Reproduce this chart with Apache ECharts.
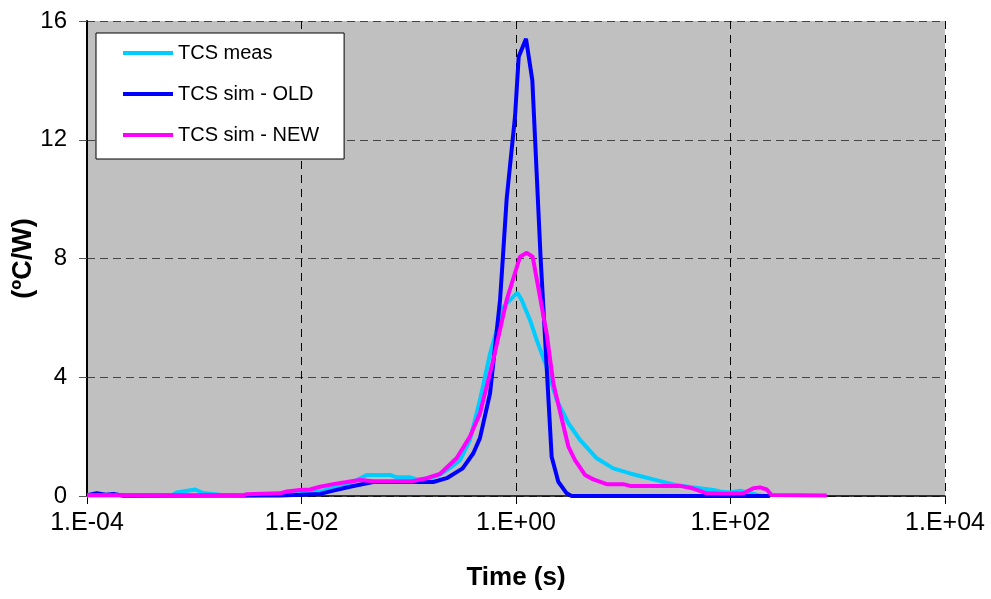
<!DOCTYPE html>
<html>
<head>
<meta charset="utf-8">
<style>
html,body{margin:0;padding:0;background:#fff;}
#chart{width:991px;height:599px;}
</style>
<script src="https://cdn.jsdelivr.net/npm/echarts@6/dist/echarts.min.js"></script>
</head>
<body>
<div id="chart"></div>
<script>
// ---- data ----
const seriesNames = ['TCS meas', 'TCS sim - OLD', 'TCS sim - NEW'];

const measTime = [1.0e-4, 6.2e-4, 6.85e-4, 1.02e-3, 1.21e-3, 1.74e-3, 3.08e-3, 6.31e-3, 9.68e-3, 1.2e-2, 1.49e-2, 1.98e-2, 3.04e-2, 4.06e-2, 6.68e-2, 7.73e-2, 0.103, 0.119, 0.158, 0.195, 0.243, 0.301, 0.372, 0.461, 0.573, 0.762, 1.03, 1.13, 1.35, 1.56, 1.93, 2.4, 3.08, 3.95, 5.66, 8.07, 11.6, 19.1, 29.3, 45, 69.2, 79.8, 98.9, 123, 152, 180, 200];
const measVal  = [0.02, 0.03, 0.12, 0.22, 0.10, 0.04, 0.02, 0.05, 0.10, 0.12, 0.15, 0.28, 0.48, 0.71, 0.71, 0.63, 0.63, 0.56, 0.60, 0.72, 0.95, 1.21, 1.89, 3.23, 4.8, 6.37, 6.85, 6.6, 5.93, 5.25, 4.35, 3.23, 2.45, 1.89, 1.27, 0.93, 0.76, 0.56, 0.39, 0.29, 0.2, 0.15, 0.12, 0.18, 0.10, 0.03, 0.0];

const oldTime = [1.0e-4, 1.23e-4, 1.5e-4, 1.76e-4, 2.2e-4, 6.31e-3, 9.68e-3, 1.49e-2, 1.98e-2, 2.83e-2, 4.06e-2, 4.67e-2, 0.169, 0.226, 0.318, 0.40, 0.461, 0.573, 0.71, 0.752, 0.818, 0.98, 1.06, 1.24, 1.42, 1.70, 2.15, 2.48, 2.97, 3.30, 233];
const oldVal  = [0.03, 0.09, 0.04, 0.07, 0.01, 0.02, 0.04, 0.07, 0.18, 0.31, 0.43, 0.47, 0.47, 0.60, 0.93, 1.44, 1.95, 3.46, 6.6, 7.95, 10.0, 12.8, 14.8, 15.4, 14.0, 7.95, 1.32, 0.48, 0.09, 0.0, 0.0];

const newTime = [1.0e-4, 2.85e-3, 3.08e-3, 6.31e-3, 7.28e-3, 9.68e-3, 1.2e-2, 1.49e-2, 1.98e-2, 2.64e-2, 3.51e-2, 4.67e-2, 0.11, 0.147, 0.195, 0.28, 0.372, 0.461, 0.614, 0.818, 1.09, 1.26, 1.43, 1.93, 2.23, 3.08, 3.55, 4.40, 5.26, 7.01, 10.0, 11.6, 33.8, 45, 60, 92.3, 132, 163, 188, 218, 242, 789];
const newVal  = [0.03, 0.02, 0.06, 0.09, 0.15, 0.20, 0.22, 0.31, 0.40, 0.47, 0.54, 0.50, 0.50, 0.60, 0.74, 1.28, 2.0, 2.78, 4.58, 6.6, 8.06, 8.19, 8.06, 5.48, 3.79, 1.66, 1.21, 0.71, 0.56, 0.40, 0.40, 0.34, 0.34, 0.25, 0.09, 0.08, 0.09, 0.26, 0.29, 0.22, 0.03, 0.02];

const xTickExponents = [-4, -2, 0, 2, 4];   // decades labelled on the time axis
const yTicks = [0, 4, 8, 12, 16];
const colors = ['#00CCFF', '#0000FF', '#FF00FF'];

// ---- build chart ----
const FONT = 'Arial, "Liberation Sans", sans-serif';
function pairs(t, v) { return t.map((x, i) => [x, v[i]]); }
function expLabel(e) {
  const s = Math.abs(e) < 10 ? '0' + Math.abs(e) : '' + Math.abs(e);
  return '1.E' + (e < 0 ? '-' : '+') + s;
}

const chart = echarts.init(document.getElementById('chart'), null, {renderer: 'canvas'});
const option = {
  animation: false,
  backgroundColor: '#ffffff',
  grid: {left: 87, right: 46, top: 21, bottom: 103, show: true, backgroundColor: '#C0C0C0', borderWidth: 0,
         containLabel: false, outerBoundsMode: 'none'},
  legend: {
    orient: 'vertical', left: 96, top: 33,
    padding: [10, 25, 14, 27],
    itemWidth: 50, itemHeight: 20, itemGap: 21,
    backgroundColor: '#ffffff', borderColor: '#000000', borderWidth: 1,
    textStyle: {fontFamily: FONT, fontSize: 20, color: '#000'},
    data: seriesNames.map(n => ({name: n, icon: 'path://M0,0 L50,0 L50,4 L0,4 Z'}))
  },
  xAxis: [
    { // data axis (logarithmic), hidden visuals
      type: 'log', logBase: 10, min: 1e-4, max: 1e4, show: false,
      splitLine: {show: false}
    },
    { // decade axis for ticks, gridlines and labels
      type: 'value', min: xTickExponents[0], max: xTickExponents[xTickExponents.length - 1], interval: 2,
      position: 'bottom',
      axisLine: {show: true, onZero: false, lineStyle: {color: '#000', width: 1.5}},
      axisTick: {show: true, inside: false, length: 8, lineStyle: {color: '#000'}},
      axisLabel: {margin: 15, fontFamily: FONT, fontSize: 25, color: '#000', formatter: v => expLabel(v)},
      splitLine: {show: true, lineStyle: {color: '#000', type: [8, 6], width: 1}},
      name: 'Time (s)', nameLocation: 'middle', nameGap: 69, nameMoveOverlap: false,
      nameTextStyle: {fontFamily: FONT, fontSize: 26, fontWeight: 'bold', color: '#000'}
    }
  ],
  yAxis: {
    type: 'value', min: yTicks[0], max: yTicks[yTicks.length - 1], interval: 4,
    axisLine: {show: true, onZero: false, lineStyle: {color: '#000', width: 2}},
    axisTick: {show: true, inside: false, length: 8, lineStyle: {color: '#555'}},
    axisLabel: {margin: 20, fontFamily: FONT, fontSize: 24, color: '#000'},
    splitLine: {show: true, lineStyle: {color: '#444', type: [8, 5], width: 1}},
    name: '(ºC/W)', nameLocation: 'middle', nameGap: 50, nameRotate: 90, nameMoveOverlap: false,
    nameTextStyle: {fontFamily: FONT, fontSize: 27, fontWeight: 'bold', color: '#000'}
  },
  series: [
    {name: seriesNames[0], type: 'line', xAxisIndex: 0, data: pairs(measTime, measVal), color: colors[0]},
    {name: seriesNames[1], type: 'line', xAxisIndex: 0, data: pairs(oldTime, oldVal), color: colors[1]},
    {name: seriesNames[2], type: 'line', xAxisIndex: 0, data: pairs(newTime, newVal), color: colors[2]}
  ].map(s => Object.assign(s, {
    symbol: 'none', showSymbol: false, smooth: false,
    lineStyle: {width: 4, color: s.color}, itemStyle: {color: s.color}
  }))
};
chart.setOption(option);
</script>
</body>
</html>
